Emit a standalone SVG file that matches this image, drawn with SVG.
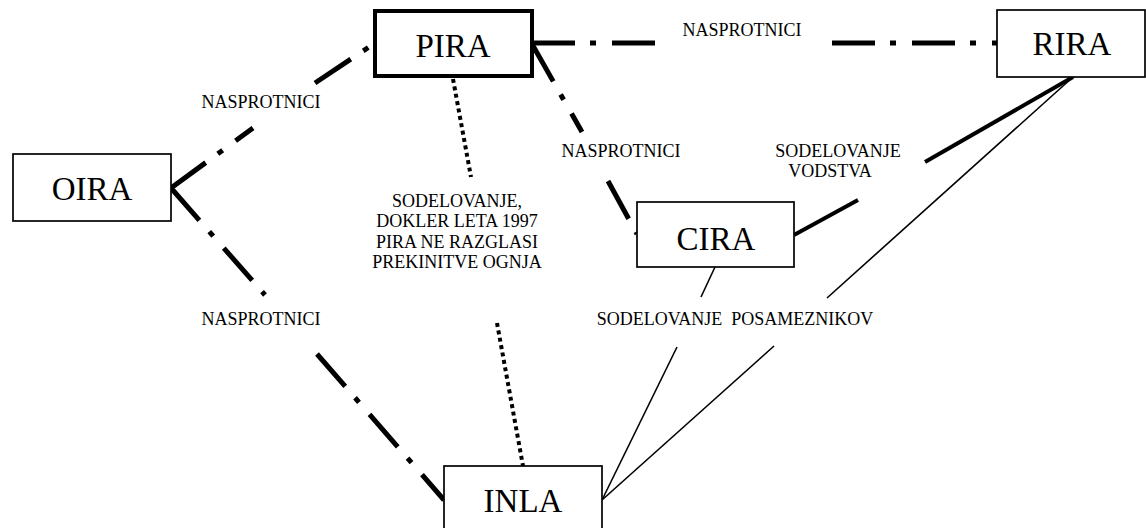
<svg xmlns="http://www.w3.org/2000/svg" width="1146" height="528" viewBox="0 0 1146 528">
<style>
.box{fill:#fff;stroke:#000;stroke-width:1.7}
.thick{stroke-width:4}
.name{font-family:"Liberation Serif","Times New Roman",serif;font-size:33px;fill:#000;text-anchor:middle}
.lbl{font-family:"Liberation Serif","Times New Roman",serif;font-size:18px;fill:#000;text-anchor:middle}
.dd{stroke:#000;stroke-width:5;stroke-dasharray:43 15 6 16;fill:none}
.dot{stroke:#000;stroke-width:4;stroke-dasharray:4 3.5;fill:none}
.solid{stroke:#000;stroke-width:4;fill:none}
.thin{stroke:#000;stroke-width:1.6;fill:none}
</style>
<rect width="1146" height="528" fill="#fff"/>
<g id="connectors">
<line class="dd" x1="171" y1="188" x2="253" y2="128"/>
<line class="dd" x1="315" y1="83" x2="375" y2="43"/>
<line class="dd" x1="171" y1="188" x2="265" y2="295"/>
<line class="dd" x1="317" y1="354" x2="444" y2="500"/>
<line class="dd" x1="532" y1="43" x2="656" y2="43"/>
<line class="dd" x1="832" y1="43" x2="997" y2="43"/>
<line class="dd" x1="532" y1="44" x2="582" y2="132"/>
<line class="dd" x1="608" y1="181" x2="637" y2="234"/>
<line class="dot" x1="453" y1="79" x2="471" y2="177"/>
<line class="dot" x1="497" y1="323" x2="523" y2="466"/>
<line class="solid" x1="794" y1="235" x2="858" y2="200"/>
<line class="solid" x1="925" y1="162" x2="1073" y2="77"/>
<line class="thin" x1="1073" y1="77" x2="827" y2="298"/>
<line class="thin" x1="774" y1="346" x2="602" y2="500"/>
<line class="thin" x1="715" y1="267" x2="701" y2="297"/>
<line class="thin" x1="677" y1="347" x2="602" y2="500"/>
<text class="lbl" x="261" y="108">NASPROTNICI</text>
<text class="lbl" x="261" y="325">NASPROTNICI</text>
<text class="lbl" x="742" y="36">NASPROTNICI</text>
<text class="lbl" x="621" y="157">NASPROTNICI</text>
<text class="lbl" x="457" y="207">SODELOVANJE,</text>
<text class="lbl" x="457" y="227">DOKLER LETA 1997</text>
<text class="lbl" x="457" y="248">PIRA NE RAZGLASI</text>
<text class="lbl" x="457" y="268">PREKINITVE OGNJA</text>
<text class="lbl" x="838" y="157">SODELOVANJE</text>
<text class="lbl" x="830" y="177">VODSTVA</text>
<text class="lbl" x="735" y="325" xml:space="preserve">SODELOVANJE  POSAMEZNIKOV</text>
</g>
<g id="node-oira">
<rect class="box" x="13" y="154" width="158" height="67"/>
<text class="name" x="92" y="200">OIRA</text>
</g>
<g id="node-pira">
<rect class="box thick" x="375" y="11" width="157" height="65"/>
<text class="name" x="453" y="57">PIRA</text>
</g>
<g id="node-rira">
<rect class="box" x="997" y="10" width="148" height="67"/>
<text class="name" x="1072" y="55">RIRA</text>
</g>
<g id="node-cira">
<rect class="box" x="637" y="202" width="157" height="65"/>
<text class="name" x="716" y="250">CIRA</text>
</g>
<g id="node-inla">
<rect class="box" x="444" y="466" width="158" height="67"/>
<text class="name" x="523" y="512">INLA</text>
</g>
</svg>
